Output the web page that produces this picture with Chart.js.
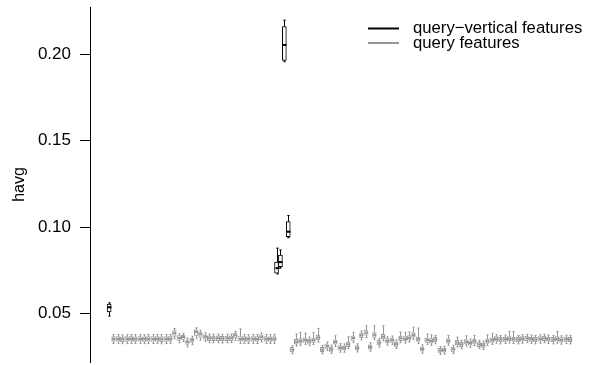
<!DOCTYPE html>
<html>
<head>
<meta charset="utf-8">
<script src="https://cdn.jsdelivr.net/npm/chart.js@4.4.0/dist/chart.umd.min.js"></script>
<style>
  html, body { margin: 0; padding: 0; background: #fff; }
  #wrap { width: 598px; height: 365px; }
</style>
</head>
<body>
<div id="wrap"><canvas id="havgChart" width="598" height="365"></canvas></div>
<script>
// feature index of each box (x position along the run)
const grayPos = [1,2,3,4,5,6,7,8,9,10,11,12,13,14,15,16,17,18,19,20,21,22,23,24,25,26,27,28,29,30,31,32,33,34,35,36,37,38,
  42,43,44,45,46,47,48,49,50,51,52,53,54,55,56,57,58,59,60,61,62,63,64,65,66,67,68,69,70,71,72,73,74,
  75,76,77,78,79,80,81,82,83,84,85,86,87,88,89,90,91,92,93,94,95,96,97,98,99,100,101,102,103,104,105,106];
const blackPos = [0, 38.5, 39.4, 40.3, 41.2];

// [lower whisker, q1, median, q3, upper whisker]
const grayStats = [
  [.0325,.0337,.0351,.0365,.0376],[.0326,.0338,.0352,.0366,.0377],[.0324,.0336,.0350,.0364,.0375],
  [.0325,.0337,.0351,.0365,.0376],[.0326,.0338,.0352,.0365,.0377],[.0325,.0337,.0350,.0364,.0376],
  [.0326,.0338,.0351,.0365,.0377],[.0324,.0337,.0351,.0364,.0375],[.0325,.0338,.0352,.0366,.0378],
  [.0325,.0337,.0351,.0365,.0376],[.0326,.0338,.0352,.0365,.0377],[.0324,.0336,.0350,.0364,.0376],
  [.0325,.0337,.0351,.0365,.0377],[.0326,.0338,.0352,.0366,.0378],[.0352,.0366,.0385,.0400,.0412],
  [.0330,.0343,.0357,.0371,.0381],[.0336,.0349,.0363,.0373,.0384],[.0306,.0320,.0334,.0346,.0357],
  [.0318,.0332,.0345,.0357,.0367],[.0356,.0372,.0392,.0405,.0416],[.0345,.0360,.0378,.0392,.0402],
  [.0338,.0351,.0365,.0376,.0387],[.0330,.0342,.0356,.0369,.0380],[.0329,.0341,.0355,.0368,.0379],
  [.0330,.0342,.0356,.0369,.0380],[.0328,.0340,.0354,.0367,.0378],[.0329,.0341,.0355,.0368,.0379],
  [.0330,.0342,.0356,.0369,.0380],[.0343,.0356,.0372,.0385,.0396],[.0326,.0338,.0351,.0365,.0410],
  [.0326,.0338,.0352,.0365,.0377],[.0325,.0337,.0351,.0364,.0376],[.0326,.0339,.0352,.0366,.0378],
  [.0325,.0338,.0351,.0365,.0377],[.0334,.0348,.0362,.0375,.0386],[.0326,.0338,.0352,.0365,.0377],
  [.0325,.0337,.0351,.0364,.0376],[.0326,.0338,.0352,.0366,.0378],
  // second run
  [.0266,.0277,.0290,.0304,.0313],[.0310,.0322,.0335,.0349,.0380],[.0314,.0327,.0340,.0353,.0390],
  [.0320,.0332,.0345,.0358,.0385],[.0313,.0325,.0338,.0351,.0363],[.0319,.0332,.0345,.0358,.0388],
  [.0334,.0346,.0360,.0374,.0413],[.0266,.0278,.0290,.0303,.0314],[.0285,.0297,.0310,.0323,.0334],
  [.0268,.0280,.0292,.0305,.0316],[.0308,.0321,.0334,.0347,.0370],[.0275,.0287,.0300,.0313,.0324],
  [.0275,.0287,.0300,.0312,.0323],[.0295,.0307,.0320,.0333,.0364],[.0331,.0343,.0357,.0370,.0390],
  [.0276,.0288,.0300,.0313,.0324],[.0346,.0359,.0372,.0386,.0398],[.0360,.0373,.0388,.0403,.0428],
  [.0281,.0293,.0305,.0318,.0329],[.0348,.0361,.0375,.0389,.0428],[.0305,.0317,.0330,.0343,.0354],
  [.0340,.0352,.0365,.0379,.0428],[.0315,.0327,.0340,.0353,.0364],[.0320,.0332,.0345,.0358,.0369],
  [.0297,.0309,.0322,.0335,.0346],[.0330,.0342,.0355,.0368,.0392],[.0327,.0339,.0352,.0365,.0390],
  [.0333,.0345,.0358,.0371,.0392],[.0350,.0362,.0375,.0389,.0420],[.0325,.0337,.0350,.0363,.0415],
  [.0269,.0281,.0293,.0306,.0317],[.0320,.0332,.0345,.0358,.0380],[.0315,.0327,.0340,.0353,.0375],
  [.0323,.0335,.0348,.0361,.0372],[.0262,.0273,.0285,.0297,.0307],[.0264,.0275,.0287,.0299,.0309],
  [.0315,.0327,.0340,.0353,.0372],[.0268,.0280,.0292,.0304,.0315],[.0305,.0317,.0330,.0343,.0362],
  [.0295,.0307,.0320,.0333,.0344],[.0310,.0322,.0335,.0348,.0370],[.0303,.0315,.0328,.0341,.0352],
  [.0313,.0325,.0338,.0351,.0372],[.0295,.0307,.0320,.0333,.0344],[.0290,.0302,.0315,.0328,.0339],
  [.0313,.0325,.0338,.0351,.0375],[.0320,.0332,.0345,.0358,.0384],[.0327,.0339,.0352,.0365,.0376],
  [.0323,.0335,.0348,.0361,.0372],[.0325,.0337,.0350,.0363,.0374],[.0328,.0340,.0353,.0366,.0395],
  [.0325,.0337,.0350,.0363,.0395],[.0323,.0335,.0348,.0361,.0372],[.0327,.0339,.0352,.0365,.0376],
  [.0330,.0342,.0355,.0368,.0379],[.0325,.0337,.0350,.0363,.0374],[.0323,.0335,.0348,.0361,.0372],
  [.0327,.0339,.0352,.0365,.0376],[.0330,.0342,.0355,.0368,.0379],[.0325,.0337,.0350,.0363,.0374],
  [.0323,.0335,.0348,.0361,.0372],[.0327,.0339,.0352,.0365,.0395],[.0321,.0333,.0346,.0359,.0370],
  [.0325,.0337,.0350,.0363,.0374],[.0323,.0335,.0348,.0361,.0372]
];
const blackStats = [
  [.0484,.0508,.0535,.0554,.0561],
  [.0728,.0733,.0762,.0797,.0878],
  [.0762,.0770,.0797,.0838,.0867],
  [.1958,.1966,.2055,.2161,.2199],
  [.0938,.0944,.0973,.1031,.1067]
];

const yTicks = [0.05, 0.10, 0.15, 0.20];
const seriesNames = ['query\u2212vertical features', 'query features'];
const BLACK = '#000000';
const GRAY = '#969696';
const FONT = '"Liberation Sans", Arial, sans-serif';

function boxData(pos, stats) {
  return pos.map((p, i) => ({ x: p, y: [stats[i][1], stats[i][3]] }));
}

// whiskers, staples and medians, drawn with the chart's own scales
const boxExtras = {
  id: 'boxExtras',
  afterDatasetsDraw(chart) {
    const { ctx, scales: { x, y } } = chart;
    ctx.save();
    chart.data.datasets.forEach(ds => {
      const half = ds.barThickness / 2;
      ds.stats.forEach((s, i) => {
        const px = Math.round(x.getPixelForValue(ds.data[i].x)) + 0.5;
        const yl = y.getPixelForValue(s[0]), y1 = y.getPixelForValue(s[1]);
        const ym = y.getPixelForValue(s[2]), y3 = y.getPixelForValue(s[3]);
        const yh = y.getPixelForValue(s[4]);
        ctx.strokeStyle = ds.borderColor;
        ctx.lineWidth = 1;
        ctx.beginPath();
        ctx.moveTo(px, y3); ctx.lineTo(px, yh);
        ctx.moveTo(px, y1); ctx.lineTo(px, yl);
        ctx.moveTo(px - half * 0.6, yh); ctx.lineTo(px + half * 0.6, yh);
        ctx.moveTo(px - half * 0.6, yl); ctx.lineTo(px + half * 0.6, yl);
        ctx.stroke();
        ctx.lineWidth = 2;
        ctx.beginPath();
        ctx.moveTo(px - half, ym); ctx.lineTo(px + half, ym);
        ctx.stroke();
      });
    });
    ctx.restore();
  }
};

// legend in the top right corner, like the R legend()
const cornerLegend = {
  id: 'cornerLegend',
  afterDraw(chart) {
    const ctx = chart.ctx;
    const colors = [BLACK, GRAY];
    ctx.save();
    ctx.font = '16.7px ' + FONT;
    ctx.textBaseline = 'middle';
    seriesNames.forEach((name, i) => {
      const yy = 28.5 + i * 14.5;
      ctx.strokeStyle = colors[i];
      ctx.lineWidth = 2;
      ctx.beginPath();
      ctx.moveTo(368, yy); ctx.lineTo(399, yy);
      ctx.stroke();
      ctx.fillStyle = '#000';
      ctx.fillText(name, 413, yy);
    });
    ctx.restore();
  }
};

new Chart(document.getElementById('havgChart'), {
  type: 'bar',
  data: {
    datasets: [
      {
        label: seriesNames[0],
        data: boxData(blackPos, blackStats),
        stats: blackStats,
        backgroundColor: '#ffffff',
        borderColor: BLACK,
        borderWidth: 1,
        borderSkipped: false,
        barThickness: 4,
        grouped: false
      },
      {
        label: seriesNames[1],
        data: boxData(grayPos, grayStats),
        stats: grayStats,
        backgroundColor: '#ffffff',
        borderColor: GRAY,
        borderWidth: 1,
        borderSkipped: false,
        barThickness: 3.5,
        grouped: false
      }
    ]
  },
  options: {
    responsive: false,
    animation: false,
    layout: { padding: { left: 0, right: 8, top: 7, bottom: 3 } },
    plugins: {
      legend: { display: false },
      tooltip: { enabled: false }
    },
    scales: {
      x: {
        type: 'linear',
        min: -4.4,
        max: 110.6,
        offset: false,
        display: false
      },
      y: {
        min: 0.0218,
        max: 0.2275,
        afterBuildTicks: (scale) => { scale.ticks = yTicks.map(v => ({ value: v })); },
        afterFit: (scale) => {
          scale.width = 90;
          scale.paddingTop = 0;
          scale.paddingBottom = 0;
        },
        border: { display: true, color: '#000', width: 1 },
        grid: { drawOnChartArea: false, drawTicks: true, tickLength: 10, color: '#000' },
        ticks: {
          color: '#000',
          padding: 9,
          font: { family: FONT, size: 17 },
          callback: (v) => v.toFixed(2)
        },
        title: {
          display: true,
          text: 'havg',
          color: '#000',
          padding: { top: 10, bottom: 0 },
          font: { family: FONT, size: 16 }
        }
      }
    }
  },
  plugins: [boxExtras, cornerLegend]
});
</script>
</body>
</html>
